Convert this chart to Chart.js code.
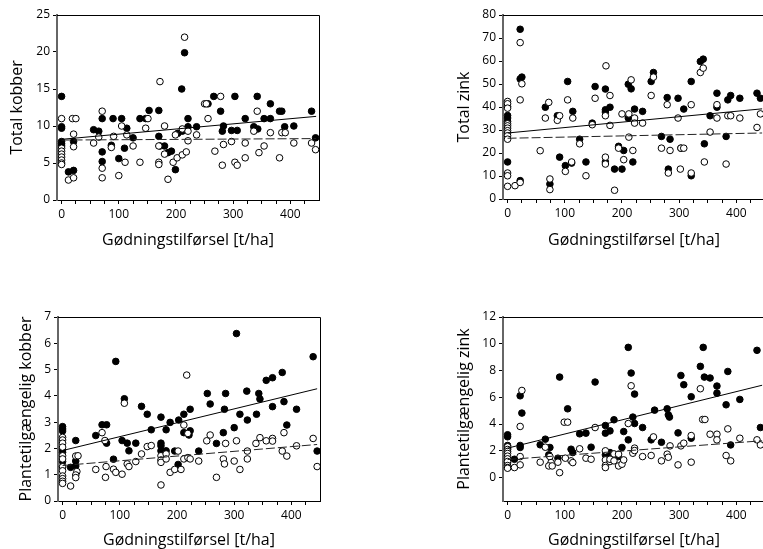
<!DOCTYPE html>
<html>
<head>
<meta charset="utf-8">
<script src="https://cdn.jsdelivr.net/npm/chart.js@4.4.1/dist/chart.umd.min.js"></script>
<style>
  html, body { margin: 0; padding: 0; background: #fff; width: 763px; height: 549px; overflow: hidden; }
  canvas { position: absolute; }
</style>
</head>
<body>
<canvas id="totalKobber" width="330" height="250" style="left:0px;top:0px"></canvas>
<canvas id="totalZink" width="330" height="250" style="left:440px;top:0px"></canvas>
<canvas id="plantKobber" width="330" height="250" style="left:0px;top:300px"></canvas>
<canvas id="plantZink" width="330" height="250" style="left:440px;top:300px"></canvas>
<script>
// akse
const xTicks = [0, 25, 50, 75, 100, 125, 150, 175, 200, 225, 250, 275, 300, 325, 350, 375, 400, 425];
const xTickLabels = [0, 100, 200, 300, 400];
const linjeX = [0, 445];

// Total kobber  [gødning, værdi]
const totalKobberFyldt = [[0,14.0],[0,9.9],[0,9.7],[0,7.9],[0,7.6],[0,7.3],[12,3.8],[21,7.9],[21,4.0],[56,9.5],[65,9.3],[71,11.0],[71,6.5],[71,5.2],[90,11.0],[87,7.4],[100,5.6],[105,11.0],[114,9.7],[110,7.0],[125,8.4],[137,11.0],[147,11.0],[153,12.1],[170,12.1],[170,8.6],[172,7.3],[180,7.3],[186,6.4],[192,6.6],[199,4.1],[203,9.0],[211,9.3],[210,15.0],[215,19.9],[221,11.0],[221,9.9],[236,9.9],[256,13.0],[266,14.0],[278,12.0],[283,10.0],[281,9.3],[303,14.0],[297,9.4],[307,9.4],[321,11.0],[342,14.0],[336,9.9],[343,9.6],[354,11.0],[365,13.0],[365,11.0],[381,12.0],[385,12.0],[390,9.9],[406,10.0],[437,12.0],[444,8.4]];
const totalKobberAaben = [[0,11.0],[0,7.0],[0,6.6],[0,6.2],[0,5.8],[0,5.4],[0,5.0],[0,4.8],[12,2.7],[19,11.0],[25,11.0],[21,8.9],[21,7.2],[21,3.0],[56,7.7],[65,8.5],[71,12.0],[71,4.3],[71,3.0],[91,8.6],[87,7.1],[100,3.3],[105,10.0],[114,8.8],[111,5.1],[125,7.3],[137,5.1],[147,9.7],[151,11.0],[172,16.0],[170,7.3],[170,5.1],[170,4.8],[180,10.0],[180,6.2],[186,2.8],[195,5.1],[199,8.8],[202,5.7],[211,9.6],[211,6.1],[215,22.0],[218,6.5],[221,9.3],[221,8.0],[236,8.8],[250,13.0],[253,13.0],[256,11.0],[268,6.6],[278,14.0],[283,7.5],[281,4.7],[297,7.9],[303,5.1],[307,4.7],[321,7.7],[321,5.7],[342,12.0],[336,9.3],[345,6.4],[354,7.3],[365,9.1],[385,9.1],[391,9.1],[381,5.7],[406,7.7],[437,7.7],[444,6.8]];
const totalKobberLinjeFyldt = [8.2, 11.3];
const totalKobberLinjeAaben = [8.1, 8.3];
const totalKobberYTicks = [0, 5, 10, 15, 20, 25];

// Total zink
const totalZinkFyldt = [[0,40.2],[0,36.3],[0,35.2],[0,33.7],[0,16.1],[22,73.8],[22,52.2],[25,53.0],[22,8.0],[66,39.9],[74,6.5],[87,36.2],[91,18.2],[101,14.5],[105,51.1],[112,15.6],[114,38.1],[126,26.0],[137,16.1],[148,33.0],[153,48.9],[171,47.8],[171,38.8],[171,37.8],[171,16.1],[179,39.9],[187,13.0],[194,22.9],[203,21.1],[200,13.0],[211,49.9],[216,47.9],[211,35.2],[219,16.1],[222,39.1],[236,38.1],[251,51.1],[255,55.0],[269,27.2],[279,44.1],[281,13.0],[284,26.0],[298,43.8],[303,22.1],[308,39.1],[321,51.1],[321,10.1],[337,59.8],[342,60.8],[344,24.0],[354,36.2],[366,46.0],[366,39.9],[382,27.2],[385,43.1],[390,45.0],[406,43.8],[436,46.0],[442,43.8]];
const totalZinkAaben = [[0,42.4],[0,41.4],[0,39.5],[0,32.7],[0,31.8],[0,30.8],[0,29.7],[0,28.7],[0,27.5],[0,26.0],[0,11.3],[0,10.1],[0,5.5],[13,5.8],[22,68.0],[25,50.1],[22,43.1],[22,7.2],[57,21.0],[66,35.2],[72,42.0],[74,8.7],[74,4.1],[87,34.2],[91,36.2],[101,12.0],[105,43.1],[112,16.1],[114,35.2],[126,24.0],[137,10.1],[148,32.3],[153,43.8],[172,57.9],[171,36.2],[171,18.2],[171,15.2],[179,45.0],[179,32.0],[187,3.8],[194,22.1],[200,37.0],[203,17.1],[212,37.0],[212,26.9],[216,51.8],[219,21.1],[222,35.2],[222,33.0],[236,33.0],[251,45.0],[255,53.0],[269,22.1],[279,41.0],[284,21.1],[281,11.3],[298,35.2],[302,13.0],[303,22.1],[308,22.1],[321,41.0],[321,11.3],[337,55.0],[342,56.9],[344,16.1],[354,29.1],[366,41.0],[366,35.2],[382,15.2],[385,36.2],[390,36.2],[406,35.2],[436,31.1],[442,37.0]];
const totalZinkLinjeFyldt = [28.7, 39.2];
const totalZinkLinjeAaben = [26.4, 28.7];
const totalZinkYTicks = [0, 10, 20, 30, 40, 50, 60, 70, 80];

// Plantetilgængelig kobber
const plantKobberFyldt = [[0,2.83],[0,2.74],[0,2.66],[0,1.95],[0,1.85],[0,1.5],[0,1.3],[14,1.28],[23,2.3],[23,1.52],[23,1.33],[58,2.49],[69,2.9],[77,2.9],[77,2.2],[93,5.31],[89,1.59],[104,2.3],[108,3.89],[113,2.2],[116,1.91],[128,2.2],[138,3.6],[148,3.3],[155,2.71],[172,3.19],[172,2.2],[172,2.1],[172,1.91],[181,2.71],[181,1.91],[188,2.99],[196,1.9],[202,1.39],[203,3.08],[212,3.3],[212,2.6],[221,2.51],[223,3.49],[223,2.67],[238,1.9],[253,4.09],[258,3.69],[269,2.19],[281,2.6],[283,3.49],[285,4.09],[300,2.79],[304,6.37],[310,3.3],[322,4.18],[323,3.08],[339,3.3],[343,4.09],[345,3.88],[356,4.59],[367,4.69],[367,3.59],[384,4.89],[387,3.78],[392,2.89],[409,3.49],[438,5.49],[445,1.9]];
const plantKobberAaben = [[0,2.42],[0,2.32],[0,2.2],[0,2.05],[0,1.72],[0,1.6],[0,1.3],[0,1.15],[0,0.95],[0,0.85],[0,0.75],[0,0.67],[14,0.57],[23,1.71],[27,1.72],[25,1.12],[23,0.99],[23,0.89],[58,1.2],[69,2.6],[74,2.3],[76,1.31],[75,0.9],[89,1.21],[93,1.09],[104,1.02],[108,3.72],[113,1.41],[116,1.31],[128,1.5],[138,1.79],[148,2.07],[155,2.11],[172,1.72],[172,1.56],[172,1.47],[172,0.61],[181,1.79],[181,1.6],[188,1.09],[196,1.2],[202,1.9],[207,1.2],[212,2.89],[212,1.6],[217,4.79],[219,2.57],[219,1.65],[223,1.6],[238,1.52],[252,2.29],[258,2.51],[269,0.9],[281,1.6],[283,1.41],[285,2.19],[300,1.52],[304,2.29],[310,1.2],[323,1.9],[323,1.6],[338,2.19],[345,2.41],[356,2.29],[367,2.38],[367,2.28],[384,1.9],[387,2.6],[392,1.71],[409,2.1],[438,2.38],[445,1.31]];
const plantKobberLinjeFyldt = [1.92, 4.27];
const plantKobberLinjeAaben = [1.35, 2.15];
const plantKobberYTicks = [0, 1, 2, 3, 4, 5, 6, 7];

// Plantetilgængelig zink
const plantZinkFyldt = [[0,3.2],[0,3.05],[0,2.4],[0,2.2],[0,1.1],[12,1.37],[22,6.11],[25,4.82],[22,2.4],[22,2.25],[57,2.45],[66,2.87],[74,2.25],[72,1.7],[88,1.45],[91,7.51],[105,5.14],[111,2.12],[114,1.87],[126,3.27],[137,3.32],[146,2.27],[153,7.14],[171,3.89],[171,3.32],[171,1.7],[179,3.49],[179,1.87],[186,4.32],[194,1.57],[200,2.25],[203,3.44],[211,9.73],[211,2.82],[216,7.81],[219,4.52],[222,6.24],[222,4.04],[236,3.74],[251,2.82],[257,5.04],[269,2.64],[279,5.14],[281,4.69],[283,4.52],[298,3.34],[303,7.63],[308,6.94],[321,6.04],[321,2.94],[337,8.31],[342,9.73],[344,7.51],[354,7.44],[366,6.84],[366,6.31],[382,5.44],[385,7.93],[390,2.44],[406,5.84],[436,9.51],[442,3.74]];
const plantZinkAaben = [[0,2.3],[0,2.1],[0,1.95],[0,1.8],[0,1.6],[0,1.4],[0,1.2],[0,0.9],[0,0.75],[0,0.7],[12,0.75],[25,6.51],[22,3.82],[22,1.57],[22,0.95],[57,1.15],[66,2.27],[74,1.57],[76,1.12],[72,0.87],[78,0.87],[88,1.15],[91,0.37],[101,1.45],[99,4.14],[105,4.14],[111,1.25],[114,1.12],[126,2.15],[137,1.45],[146,1.37],[153,3.74],[171,2.0],[171,1.32],[171,0.9],[171,0.75],[179,1.2],[179,1.37],[186,1.77],[186,1.25],[194,1.75],[194,0.87],[200,1.0],[203,1.32],[211,4.04],[216,6.86],[219,1.82],[222,2.2],[222,2.02],[236,1.57],[251,1.65],[255,3.04],[269,1.25],[279,1.75],[281,1.52],[284,2.37],[298,0.95],[303,2.37],[308,2.57],[321,3.14],[321,1.15],[337,6.64],[341,4.34],[345,4.34],[354,3.24],[366,3.24],[366,2.82],[382,1.65],[385,3.64],[390,1.25],[406,2.94],[436,2.82],[442,2.44]];
const plantZinkLinjeFyldt = [2.2, 6.9];
const plantZinkLinjeAaben = [1.35, 2.75];
const plantZinkYTicks = [0, 2, 4, 6, 8, 10, 12];

const skrift = '"Open Sans", "Noto Sans", sans-serif';

// ramme oppe og til hoejre
const ramme = {
    id: 'ramme',
    beforeDatasetsDraw(chart){
        const {ctx, chartArea: a} = chart;
        ctx.save();
        ctx.strokeStyle = '#000';
        ctx.lineWidth = 1;
        ctx.beginPath();
        ctx.moveTo(a.left, Math.round(a.top) + 0.5);
        ctx.lineTo(Math.round(a.right) + 0.5, Math.round(a.top) + 0.5);
        ctx.lineTo(Math.round(a.right) + 0.5, a.bottom);
        ctx.stroke();
        ctx.restore();
    }
};

function lavGraf(id, g){
    const punkter = arr => arr.map(p => ({x: p[0], y: p[1]}));
    const linje = yy => linjeX.map((x, i) => ({x: x, y: yy[i]}));

    new Chart(document.getElementById(id), {
        type: 'scatter',
        data: {
            datasets: [
                { data: linje(g.linjeFyldt), showLine: true, borderColor: '#000', borderWidth: 1, pointRadius: 0, order: 0 },
                { data: linje(g.linjeAaben), showLine: true, borderColor: '#222', borderWidth: 1, borderDash: [9, 3], pointRadius: 0, order: 1 },
                { data: punkter(g.aaben), pointRadius: 3.3, backgroundColor: '#fff', borderColor: '#000', borderWidth: 1, order: 2 },
                { data: punkter(g.fyldt), pointRadius: 3.3, backgroundColor: '#000', borderColor: '#000', borderWidth: 1, order: 3 }
            ]
        },
        options: {
            responsive: false,
            animation: false,
            devicePixelRatio: 1,
            layout: { padding: { top: g.top, right: g.right, left: 0, bottom: 0 } },
            plugins: { legend: { display: false }, tooltip: { enabled: false } },
            scales: {
                x: {
                    type: 'linear',
                    min: -8,
                    max: 450,
                    afterBuildTicks: s => { s.ticks = xTicks.map(v => ({value: v})); },
                    afterFit: s => { s.height = g.xHoejde; },
                    grid: { drawOnChartArea: false, tickLength: 4, color: '#000' },
                    border: { display: true, color: '#000', width: 1 },
                    ticks: {
                        autoSkip: false, maxRotation: 0, padding: 3,
                        color: '#000', font: { family: skrift, size: 12 },
                        callback: v => xTickLabels.includes(v) ? String(v) : ''
                    },
                    title: {
                        display: true, text: 'Gødningstilførsel [t/ha]', color: '#000',
                        font: { family: skrift, size: 16 }, padding: { top: 0, bottom: 0 }
                    }
                },
                y: {
                    type: 'linear',
                    min: g.yMin,
                    max: g.yMax,
                    afterBuildTicks: s => { s.ticks = g.yTicks.map(v => ({value: v})); },
                    afterFit: s => { s.width = g.yBredde; },
                    grid: { drawOnChartArea: false, tickLength: 4, color: '#000' },
                    border: { display: true, color: '#666', width: 2 },
                    ticks: {
                        autoSkip: false, padding: 3,
                        color: '#000', font: { family: skrift, size: 12 },
                        callback: v => String(v)
                    },
                    title: {
                        display: true, text: g.titel, color: '#000',
                        font: { family: skrift, size: 16 }, padding: { top: g.titelPad, bottom: 0 }
                    }
                }
            }
        },
        plugins: [ramme]
    });
}

lavGraf('totalKobber', {
    fyldt: totalKobberFyldt, aaben: totalKobberAaben,
    linjeFyldt: totalKobberLinjeFyldt, linjeAaben: totalKobberLinjeAaben,
    yTicks: totalKobberYTicks, yMin: 0, yMax: 25, titel: 'Total kobber',
    top: 15, right: 11, yBredde: 57, xHoejde: 50, titelPad: 8
});
lavGraf('totalZink', {
    fyldt: totalZinkFyldt, aaben: totalZinkAaben,
    linjeFyldt: totalZinkLinjeFyldt, linjeAaben: totalZinkLinjeAaben,
    yTicks: totalZinkYTicks, yMin: 0, yMax: 80, titel: 'Total zink',
    top: 15, right: 5, yBredde: 63, xHoejde: 51, titelPad: 15
});
lavGraf('plantKobber', {
    fyldt: plantKobberFyldt, aaben: plantKobberAaben,
    linjeFyldt: plantKobberLinjeFyldt, linjeAaben: plantKobberLinjeAaben,
    yTicks: plantKobberYTicks, yMin: 0, yMax: 7, titel: 'Plantetilgængelig kobber',
    top: 17, right: 10, yBredde: 58, xHoejde: 49, titelPad: 17
});
lavGraf('plantZink', {
    fyldt: plantZinkFyldt, aaben: plantZinkAaben,
    linjeFyldt: plantZinkLinjeFyldt, linjeAaben: plantZinkLinjeAaben,
    yTicks: plantZinkYTicks, yMin: -1.75, yMax: 12, titel: 'Plantetilgængelig zink',
    top: 17, right: 5, yBredde: 63, xHoejde: 49, titelPad: 15
});
</script>
</body>
</html>
